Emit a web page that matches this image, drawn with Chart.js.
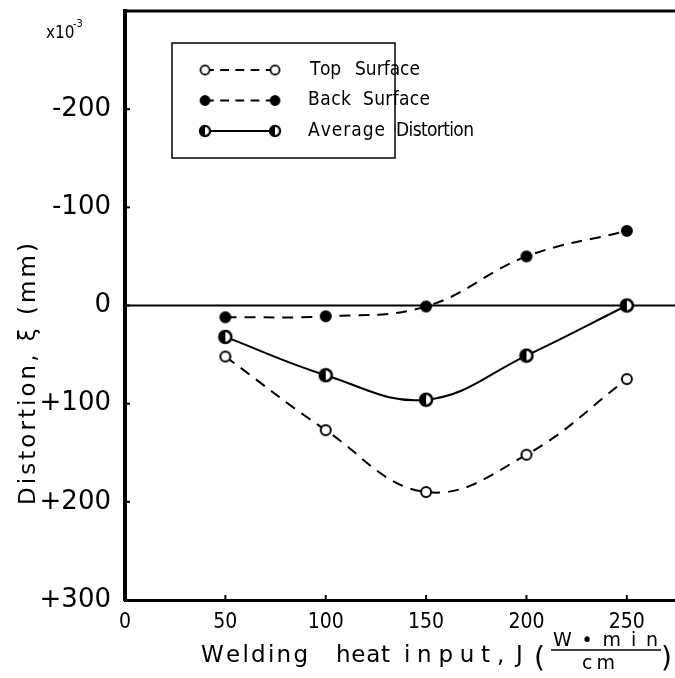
<!DOCTYPE html>
<html>
<head>
<meta charset="utf-8">
<script src="https://cdn.jsdelivr.net/npm/chart.js@4.4.1/dist/chart.umd.min.js"></script>
<style>
  html, body { margin: 0; padding: 0; background: #fff; overflow: hidden; }
  #wrap { width: 675px; height: 678px; position: relative; }
</style>
</head>
<body>
<div id="wrap"><canvas id="chart"></canvas></div>
<script>
// data (distortion in 1e-3 mm, positive = downwards)
const heatInput = [50, 100, 150, 200, 250];
const topSurface = [52, 127, 190, 152, 75];
const backSurface = [12, 11, 1, -50, -76];
const averageDistortion = [32, 71, 96, 51, 0];

const xTickValues = [0, 50, 100, 150, 200, 250];
const yTickValues = [-300, -200, -100, 0, 100, 200, 300];
const yTickLabels = ["", "-200", "-100", "0", "+100", "+200", "+300"];

const seriesNames = ["Top Surface", "Back Surface", "Average Distortion"];

const FONT = "'DejaVu Sans Condensed', 'DejaVu Sans', sans-serif";
const FONT_W = "'DejaVu Sans', sans-serif";

function makeMarker(kind) {
  const r = kind === "half" ? 6 : 5;
  const size = (r + 2) * 2;
  const c = document.createElement("canvas");
  c.width = size; c.height = size;
  const g = c.getContext("2d");
  const m = size / 2;
  g.lineWidth = 2;
  g.strokeStyle = "#000";
  g.beginPath();
  g.arc(m, m, r, 0, Math.PI * 2);
  if (kind === "open") {
    g.fillStyle = "#fff";
    g.fill();
  } else if (kind === "filled") {
    g.fillStyle = "#000";
    g.fill();
  } else {
    g.fillStyle = "#fff";
    g.fill();
    g.beginPath();
    g.arc(m, m, r, Math.PI / 2, Math.PI * 1.5);
    g.closePath();
    g.fillStyle = "#000";
    g.fill();
    g.beginPath();
    g.arc(m, m, r, 0, Math.PI * 2);
    g.lineWidth = 2.5;
  }
  g.stroke();
  return c;
}

const markers = [makeMarker("open"), makeMarker("filled"), makeMarker("half")];
const dashes = [[11, 8], [11, 8], []];

function pts(ys) {
  return heatInput.map((x, i) => ({ x, y: ys[i] }));
}

function makeLineDataset(label, ys, i) {
  return {
    label,
    data: pts(ys),
    borderColor: "#000",
    borderWidth: 2,
    borderDash: dashes[i],
    fill: false,
    tension: 0.4,
    pointStyle: markers[i],
    pointRadius: 6,
    pointHoverRadius: 6
  };
}

// spread a string char by char so it runs from x0 to x1
function fitText(ctx, text, x0, x1, y) {
  ctx.textAlign = "left";
  const chars = [...text];
  const ws = chars.map(c => ctx.measureText(c).width);
  const total = ws.reduce((s, w) => s + w, 0);
  const sp = chars.length > 1 ? (x1 - x0 - total) / (chars.length - 1) : 0;
  let x = x0;
  chars.forEach((c, i) => {
    ctx.fillText(c, x, y);
    x += ws[i] + sp;
  });
}

const extras = {
  id: "extras",
  beforeDatasetsDraw(chart) {
    const { ctx, chartArea: a, scales } = chart;
    const y0 = scales.y.getPixelForValue(0);
    ctx.save();
    ctx.strokeStyle = "#000";
    ctx.lineWidth = 2;
    ctx.beginPath();
    ctx.moveTo(a.left, y0);
    ctx.lineTo(a.right, y0);
    ctx.stroke();
    ctx.restore();
  },
  afterDraw(chart) {
    const { ctx, chartArea: a, scales } = chart;
    ctx.save();
    ctx.strokeStyle = "#000";
    ctx.fillStyle = "#000";

    // top frame line
    ctx.lineWidth = 3;
    ctx.beginPath();
    ctx.moveTo(a.left - 2, a.top);
    ctx.lineTo(a.right, a.top);
    ctx.stroke();

    // inward ticks
    ctx.lineWidth = 2;
    yTickValues.slice(1, -1).forEach(v => {
      const y = scales.y.getPixelForValue(v);
      ctx.beginPath();
      ctx.moveTo(a.left, y);
      ctx.lineTo(a.left + 5, y);
      ctx.stroke();
    });
    xTickValues.slice(1).forEach(v => {
      const x = scales.x.getPixelForValue(v);
      ctx.beginPath();
      ctx.moveTo(x, a.bottom);
      ctx.lineTo(x, a.bottom - 5);
      ctx.stroke();
    });

    // multiplier
    ctx.font = "17px " + FONT;
    ctx.textBaseline = "alphabetic";
    ctx.textAlign = "left";
    ctx.fillText("x10", 46, 38);
    ctx.font = "11px " + FONT;
    ctx.fillText("-3", 73, 27);

    // legend
    ctx.lineWidth = 1.5;
    ctx.strokeRect(172, 43, 223, 115);
    ctx.font = "19px " + FONT;
    ctx.textBaseline = "middle";
    const legendWords = [[310, 341, 355, 420], [308, 351, 363, 430], [308, 385, 396, 474]];
    seriesNames.forEach((name, i) => {
      const y = 70 + i * 30.5;
      ctx.lineWidth = 2;
      ctx.setLineDash(dashes[i].map(d => d * 0.8));
      ctx.beginPath();
      ctx.moveTo(205, y);
      ctx.lineTo(275, y);
      ctx.stroke();
      ctx.setLineDash([]);
      const m = markers[i];
      const s = i === 2 ? 0.85 : 0.9;
      [205, 275].forEach(x => ctx.drawImage(m, x - m.width * s / 2, y - m.height * s / 2, m.width * s, m.height * s));
      const [w1, w2] = name.split(" ");
      const p = legendWords[i];
      fitText(ctx, w1, p[0], p[1], y);
      fitText(ctx, w2, p[2], p[3], y);
    });

    // x axis title
    ctx.textBaseline = "alphabetic";
    ctx.font = "23px " + FONT_W;
    fitText(ctx, "Welding", 201, 308, 662);
    fitText(ctx, "heat", 336, 390, 662);
    fitText(ctx, "input", 404, 490, 662);
    ctx.fillText(",", 497, 662);
    ctx.fillText("J", 516, 662);
    ctx.font = "28px " + FONT_W;
    ctx.fillText("(", 534, 667);
    ctx.fillText(")", 661, 667);
    ctx.font = "19px " + FONT_W;
    fitText(ctx, "W\u2022min", 553, 658, 646);
    fitText(ctx, "cm", 582, 615, 669);
    ctx.lineWidth = 1.5;
    ctx.beginPath();
    ctx.moveTo(551, 650);
    ctx.lineTo(661, 650);
    ctx.stroke();

    // y axis title
    ctx.translate(35, 374);
    ctx.rotate(-Math.PI / 2);
    ctx.font = "23px " + FONT_W;
    fitText(ctx, "Distortion, \u03be (mm)", -131, 131, 0);
    ctx.restore();
  }
};

new Chart(document.getElementById("chart"), {
  type: "line",
  data: {
    datasets: [
      makeLineDataset(seriesNames[0], topSurface, 0),
      makeLineDataset(seriesNames[1], backSurface, 1),
      makeLineDataset(seriesNames[2], averageDistortion, 2)
    ]
  },
  options: {
    responsive: true,
    maintainAspectRatio: false,
    animation: false,
    layout: { autoPadding: false, padding: { top: 11, right: 0, left: 0, bottom: 0 } },
    plugins: {
      legend: { display: false },
      tooltip: { enabled: false }
    },
    scales: {
      x: {
        type: "linear",
        min: 0,
        max: 274,
        afterFit: s => { s.height = 78; s.paddingLeft = 0; s.paddingRight = 0; },
        afterBuildTicks: s => { s.ticks = xTickValues.map(v => ({ value: v })); },
        grid: { display: false },
        border: { display: true, color: "#000", width: 3 },
        ticks: {
          color: "#000",
          padding: 2,
          font: { family: FONT, size: 21 },
          callback: v => String(v)
        }
      },
      y: {
        type: "linear",
        min: -300,
        max: 300,
        reverse: true,
        afterFit: s => { s.width = 125; s.paddingTop = 0; s.paddingBottom = 0; },
        afterBuildTicks: s => { s.ticks = yTickValues.map(v => ({ value: v })); },
        grid: { display: false },
        border: { display: true, color: "#000", width: 4 },
        ticks: {
          color: "#000",
          padding: 6,
          font: { family: FONT_W, size: 26 },
          callback: v => yTickLabels[yTickValues.indexOf(v)]
        }
      }
    }
  },
  plugins: [extras]
});
</script>
</body>
</html>
